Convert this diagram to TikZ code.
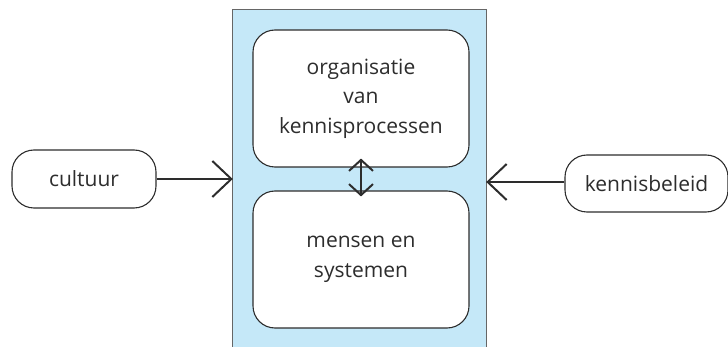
\documentclass[tikz,border=0pt]{standalone}
\usepackage{fontspec}
\setmainfont{Open Sans}
\usetikzlibrary{arrows.meta}
\definecolor{lichtblauw}{RGB}{197,232,248}
\definecolor{donker}{RGB}{45,45,45}

\begin{document}
\begin{tikzpicture}[x=1pt,y=-1pt,
  blok/.style={draw=donker,line width=1.1pt,fill=white,rounded corners=22pt,
    minimum width=216pt,minimum height=137pt,align=center,text=donker,
    font=\fontsize{21}{29.5}\selectfont},
  invloed/.style={draw=donker,line width=1.1pt,fill=white,rounded corners=22pt,
    minimum height=58pt,text=donker,font=\fontsize{21}{29.5}\selectfont},
  pijl/.style={donker,line width=2pt,-{Straight Barb[length=19pt,width=36pt,line width=2pt]}},
  dubbel/.style={donker,line width=2pt,{Straight Barb[length=11pt,width=24pt,line width=2pt]}-{Straight Barb[length=11pt,width=24pt,line width=2pt]}}]
\useasboundingbox (0,0) rectangle (728,347);
\node [fill=lichtblauw,minimum width=253pt,minimum height=337pt,inner sep=0pt] (kader) at (359.5,178.5) {};
\draw [gray!80!black,line width=0.8pt] (kader.south west) -- (kader.north west) -- (kader.north east) -- (kader.south east);
\node [blok] (proces) at (361,98.5) {organisatie\\van\\kennisprocessen};
\node [blok] (mensen) at (361,259.5) {mensen en\\systemen};
\node [invloed,minimum width=144pt] (cultuur) at (84,179) {cultuur};
\node [invloed,minimum width=163pt,minimum height=57pt] (beleid) at (646.5,183.5) {kennisbeleid};
\draw [pijl] (cultuur) -- (cultuur -| kader.west);
\draw [pijl] ([yshift=1.5pt]beleid.west) -- ([yshift=1.5pt]beleid.west -| kader.east);
\draw [dubbel] ([yshift=9pt]proces.south) -- ([yshift=-6pt]mensen.north);
\end{tikzpicture}
\end{document}
